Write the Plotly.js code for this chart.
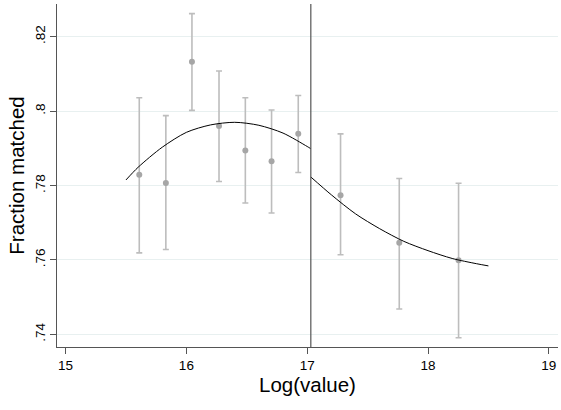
<!DOCTYPE html>
<html>
<head>
<meta charset="utf-8">
<script src="https://cdn.plot.ly/plotly-3.0.1.min.js"></script>
<style>html,body{margin:0;padding:0;background:#fff}#chart{width:561px;height:410px}</style>
</head>
<body>
<div id="chart"></div>
<script>
// Binned points with confidence intervals
const binX    = [15.61, 15.83, 16.046, 16.27, 16.488, 16.705, 16.926, 17.276, 17.762, 18.253];
const binY    = [0.7829, 0.7807, 0.8133, 0.7960, 0.7894, 0.7865, 0.7939, 0.7774, 0.7646, 0.7599];
const binHigh = [0.8036, 0.7988, 0.8262, 0.8108, 0.8036, 0.8003, 0.8042, 0.7939, 0.7819, 0.7806];
const binLow  = [0.7619, 0.7628, 0.8002, 0.7811, 0.7753, 0.7726, 0.7835, 0.7614, 0.7468, 0.7391];

// Fitted curve, left of cutoff
const fitLeftX = [15.5, 15.6, 15.8, 16.0, 16.2, 16.4, 16.6, 16.8, 17.0, 17.03];
const fitLeftY = [0.7815, 0.7849, 0.7903, 0.7943, 0.7963, 0.7970, 0.7962, 0.7941, 0.7905, 0.7899];
// Fitted curve, right of cutoff
const fitRightX = [17.03, 17.2, 17.4, 17.6, 17.8, 18.0, 18.2, 18.4, 18.5];
const fitRightY = [0.7823, 0.7775, 0.7724, 0.7684, 0.7650, 0.7625, 0.7604, 0.7590, 0.7584];

const cutoff = 17.03;
const yTicks = [0.74, 0.76, 0.78, 0.80, 0.82];
const yTickText = ['.74', '.76', '.78', '.8', '.82'];
const xTicks = [15, 16, 17, 18, 19];

const errPlus = binHigh.map((h, i) => h - binY[i]);
const errMinus = binY.map((y, i) => y - binLow[i]);

const traces = [
  {
    x: binX, y: binY, type: 'scatter', mode: 'markers',
    marker: {color: '#a6a6a6', size: 6},
    error_y: {type: 'data', symmetric: false, array: errPlus, arrayminus: errMinus,
              color: '#bdbdbd', thickness: 1.6, width: 3},
    showlegend: false, hoverinfo: 'skip'
  },
  {
    x: fitLeftX, y: fitLeftY, type: 'scatter', mode: 'lines',
    line: {color: '#000', width: 1, shape: 'spline', smoothing: 0.8}, showlegend: false
  },
  {
    x: fitRightX, y: fitRightY, type: 'scatter', mode: 'lines',
    line: {color: '#000', width: 1, shape: 'spline', smoothing: 0.8}, showlegend: false
  }
];

const layout = {
  width: 561, height: 410,
  margin: {l: 57, r: 3, t: 4, b: 63},
  paper_bgcolor: '#fff', plot_bgcolor: '#fff',
  font: {family: '"Liberation Sans", Arial, sans-serif', color: '#000', size: 13},
  showlegend: false,
  xaxis: {
    range: [14.929, 19.076], tickvals: xTicks, ticktext: xTicks.map(String),
    showgrid: false, zeroline: false, showline: true, linecolor: '#555', linewidth: 1,
    ticks: 'outside', ticklen: 6, tickcolor: '#555', tickfont: {size: 13.5},
    title: {text: 'Log(value)', font: {size: 20.5}, standoff: 0}
  },
  yaxis: {
    range: [0.7366, 0.8288], tickvals: yTicks, ticktext: yTickText, tickangle: -90,
    showgrid: true, gridcolor: '#e8f0f0', gridwidth: 1,
    zeroline: false, showline: true, linecolor: '#555', linewidth: 1,
    ticks: 'outside', ticklen: 6, tickcolor: '#555', tickfont: {size: 13.5},
    title: {text: 'Fraction matched', font: {size: 20.5}, standoff: 2}
  },
  shapes: [{
    type: 'line', xref: 'x', yref: 'paper', x0: cutoff, x1: cutoff, y0: 0, y1: 1,
    line: {color: '#555', width: 1.2}
  }]
};

Plotly.newPlot('chart', traces, layout, {displayModeBar: false, staticPlot: true});
</script>
</body>
</html>
